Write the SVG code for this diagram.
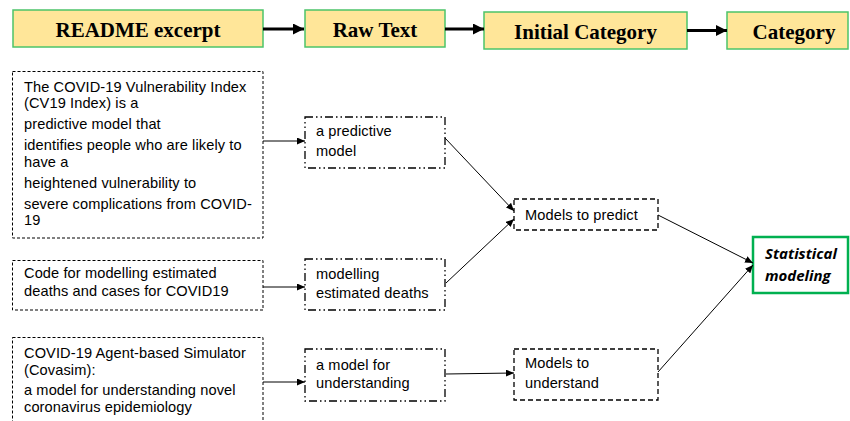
<svg xmlns="http://www.w3.org/2000/svg" width="850" height="421" viewBox="0 0 850 421">
<style>
.hdr{fill:#FFE699;stroke:#4CC46A;stroke-width:1.5}
.ht{font-family:"Liberation Serif","Times New Roman",serif;font-weight:bold;font-size:21px;fill:#000;text-anchor:middle}
.src{fill:#fff;stroke:#000;stroke-width:1;stroke-dasharray:3 2}
.raw{fill:#fff;stroke:#000;stroke-width:1.3;stroke-dasharray:8 3 1.5 3 1.5 3}
.ini{fill:#fff;stroke:#000;stroke-width:1.3;stroke-dasharray:5 3}
.cat{fill:#fff;stroke:#00B050;stroke-width:2.5}
.t{font-family:"Liberation Sans",Arial,sans-serif;font-size:14.6px;letter-spacing:0.1px;fill:#000}
.bt{font-family:"Open Sans","Liberation Sans",sans-serif;font-size:15px;font-weight:bold;font-style:italic;fill:#000}
.thick{stroke:#000;stroke-width:3;fill:none}
.thin{stroke:#000;stroke-width:1;fill:none}
</style>
<defs>
<marker id="ah" markerUnits="userSpaceOnUse" markerWidth="12" markerHeight="12" refX="11" refY="5.5" orient="auto"><path d="M0,0 L11,5.5 L0,11 z" fill="#000"/></marker>
<marker id="as" markerUnits="userSpaceOnUse" markerWidth="9" markerHeight="8" refX="8" refY="3.5" orient="auto"><path d="M0,0 L8,3.5 L0,7 z" fill="#000"/></marker>
</defs>

<g id="h-readme"><rect class="hdr" x="13" y="10" width="250" height="37"/><text class="ht" x="138" y="37">README excerpt</text></g>
<g id="h-raw"><rect class="hdr" x="305" y="10" width="140" height="37"/><text class="ht" x="375" y="37">Raw Text</text></g>
<g id="h-initial"><rect class="hdr" x="484" y="12" width="203" height="37"/><text class="ht" x="585.5" y="38.5">Initial Category</text></g>
<g id="h-category"><rect class="hdr" x="727" y="12" width="121" height="37"/><text class="ht" x="794" y="38.5">Category</text></g>

<g id="src1"><rect class="src" x="12.5" y="71.5" width="250.5" height="166.5"/>
<text class="t" x="24" y="91.5">The COVID-19 Vulnerability Index</text>
<text class="t" x="24" y="108">(CV19 Index) is a</text>
<text class="t" x="24" y="129">predictive model that</text>
<text class="t" x="24" y="150">identifies people who are likely to</text>
<text class="t" x="24" y="166.5">have a</text>
<text class="t" x="24" y="187.5">heightened vulnerability to</text>
<text class="t" x="24" y="208.5">severe complications from COVID-</text>
<text class="t" x="24" y="225">19</text>
</g>
<g id="src2"><rect class="src" x="12.5" y="260.5" width="250.5" height="49.5"/>
<text class="t" x="24" y="278">Code for modelling estimated</text>
<text class="t" x="24" y="296">deaths and cases for COVID19</text>
</g>
<g id="src3"><rect class="src" x="12.5" y="337.5" width="250.5" height="100"/>
<text class="t" x="24" y="358">COVID-19 Agent-based Simulator</text>
<text class="t" x="24" y="374.5">(Covasim):</text>
<text class="t" x="24" y="394.5">a model for understanding novel</text>
<text class="t" x="24" y="411.5">coronavirus epidemiology</text>
</g>

<g id="raw1"><rect class="raw" x="305" y="117" width="140" height="51"/>
<text class="t" x="316" y="136">a predictive</text>
<text class="t" x="316" y="156">model</text>
</g>
<g id="raw2"><rect class="raw" x="305" y="259" width="140" height="51"/>
<text class="t" x="316" y="279">modelling</text>
<text class="t" x="316" y="298">estimated deaths</text>
</g>
<g id="raw3"><rect class="raw" x="305" y="349" width="140" height="52"/>
<text class="t" x="316" y="370">a model for</text>
<text class="t" x="316" y="388">understanding</text>
</g>

<g id="ini1"><rect class="ini" x="514" y="199" width="144" height="31"/>
<text class="t" x="525" y="220">Models to predict</text>
</g>
<g id="ini2"><rect class="ini" x="514" y="349" width="144" height="51"/>
<text class="t" x="525" y="368">Models to</text>
<text class="t" x="525" y="388">understand</text>
</g>

<g id="cat1"><rect class="cat" x="753" y="237" width="95" height="56"/>
<text class="bt" x="765" y="259">Statistical</text>
<text class="bt" x="765" y="281">modeling</text>
</g>

<g id="connectors">
<line class="thick" x1="263" y1="29" x2="304" y2="29" marker-end="url(#ah)"/>
<line class="thick" x1="445" y1="29" x2="484" y2="29" marker-end="url(#ah)"/>
<line class="thick" x1="687" y1="30.5" x2="727" y2="30.5" marker-end="url(#ah)"/>
<line class="thin" x1="263" y1="141" x2="305" y2="141" marker-end="url(#as)"/>
<line class="thin" x1="263" y1="287" x2="305" y2="287" marker-end="url(#as)"/>
<line class="thin" x1="263" y1="382" x2="305" y2="382" marker-end="url(#as)"/>
<line class="thin" x1="445" y1="138" x2="514" y2="211" marker-end="url(#as)"/>
<line class="thin" x1="446" y1="283" x2="514" y2="219" marker-end="url(#as)"/>
<line class="thin" x1="446" y1="374" x2="514" y2="373" marker-end="url(#as)"/>
<line class="thin" x1="658" y1="215" x2="753" y2="263" marker-end="url(#as)"/>
<line class="thin" x1="658" y1="372" x2="753" y2="265" marker-end="url(#as)"/>
</g>
</svg>
